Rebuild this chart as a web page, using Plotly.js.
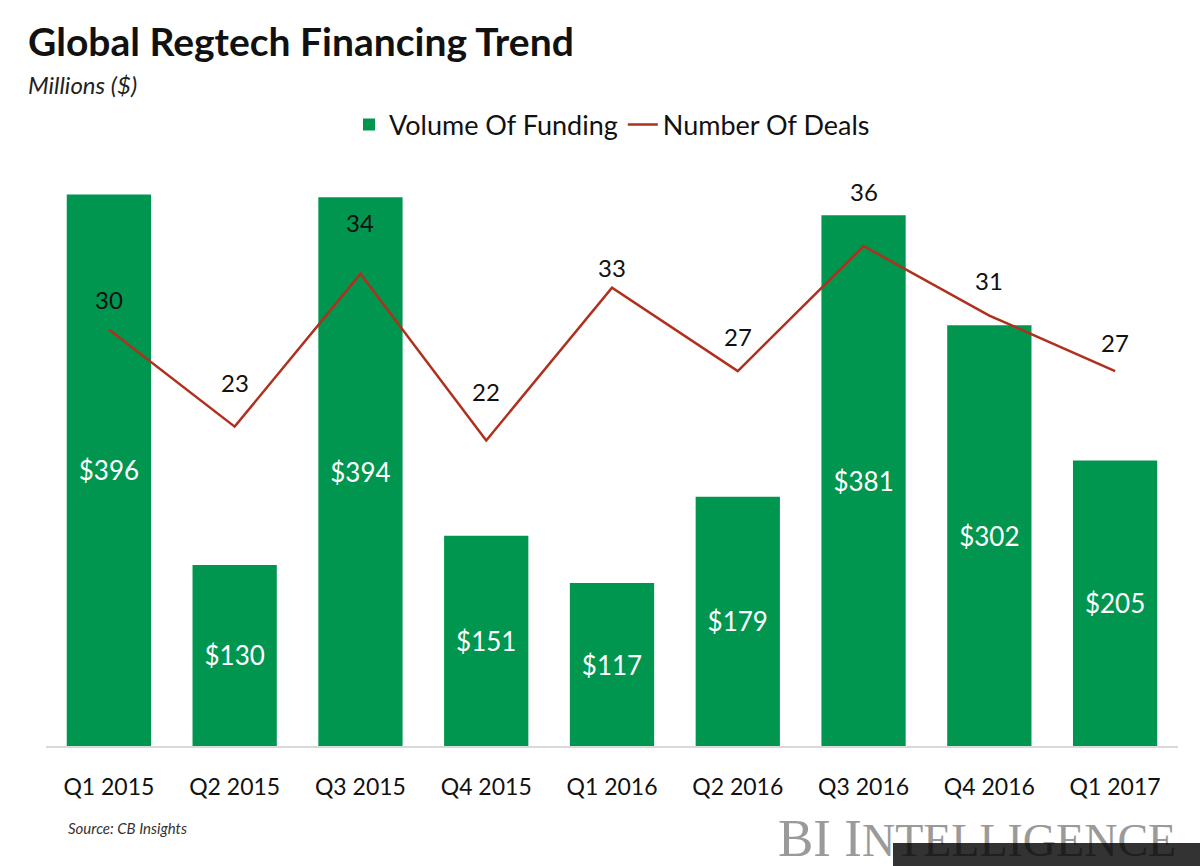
<!DOCTYPE html>
<html>
<head>
<meta charset="utf-8">
<script src="https://cdn.plot.ly/plotly-3.0.1.min.js"></script>
<style>html,body{margin:0;padding:0;background:#fff;}#chart{width:1200px;height:866px;}</style>
</head>
<body>
<div id="chart"></div>
<script>
const quarters = ["Q1 2015","Q2 2015","Q3 2015","Q4 2015","Q1 2016","Q2 2016","Q3 2016","Q4 2016","Q1 2017"];
const funding = [396,130,394,151,117,179,381,302,205];
const deals = [30,23,34,22,33,27,36,31,27];
const fundingLabels = funding.map(v => "$" + v);
const dealLabels = deals.map(String);

// label placement (pixels above each point), as hand-placed in the original
const dealLabelShift = [30,44,51,49,20,35,55,35,29];

const FONT = "Lato, 'Open Sans', sans-serif";
// plot area in pixels: x 46..1178, y 160..746
const PX = x => (x - 46) / 1132;
const PY = y => (746 - y) / 586;

const traces = [
  {
    type: "bar", name: "Volume Of Funding", x: quarters, y: funding,
    marker: {color: "#00964f"},
    text: fundingLabels, textposition: "inside", insidetextanchor: "middle",
    textfont: {color: "#ffffff", size: 26, family: FONT},
    hoverinfo: "x+y"
  },
  {
    type: "scatter", mode: "lines", name: "Number Of Deals",
    x: quarters, y: deals, yaxis: "y2",
    line: {color: "#b0301e", width: 2.5}
  }
];

const dealAnnotations = quarters.map((q, i) => ({
  x: q, y: deals[i], xref: "x", yref: "y2", text: dealLabels[i],
  showarrow: false, xanchor: "center", yanchor: "middle", yshift: dealLabelShift[i],
  font: {color: "#111", size: 24, family: FONT}
}));

const layout = {
  width: 1200, height: 866,
  paper_bgcolor: "#ffffff", plot_bgcolor: "#ffffff",
  margin: {l: 46, r: 22, t: 160, b: 120},
  font: {family: FONT, color: "#111"},
  bargap: 0.33,
  showlegend: true,
  legend: {orientation: "h", x: PX(612), xanchor: "center", y: PY(125), yanchor: "middle",
           font: {size: 27, family: FONT}, traceorder: "normal"},
  xaxis: {type: "category", range: [-0.5, 8.5], showgrid: false, zeroline: false, showline: true,
          linecolor: "#d9d9d9", linewidth: 1.5, ticks: "", ticklabelstandoff: 20,
          tickfont: {size: 23, family: FONT, color: "#111"}},
  yaxis: {range: [0, 420.7], visible: false, showgrid: false, zeroline: false},
  yaxis2: {range: [0, 42.2], overlaying: "y", side: "right", visible: false,
           showgrid: false, zeroline: false},
  annotations: dealAnnotations.concat([
    {text: "<b>Global Regtech Financing Trend</b>", xref: "paper", yref: "paper",
     x: PX(26), y: PY(41), xanchor: "left", yanchor: "middle", showarrow: false,
     font: {size: 39, family: FONT, color: "#111"}},
    {text: "<i>Millions ($)</i>", xref: "paper", yref: "paper",
     x: PX(26), y: PY(84), xanchor: "left", yanchor: "middle", showarrow: false,
     font: {size: 24, family: FONT, color: "#222"}},
    {text: "<i>Source: CB Insights</i>", xref: "paper", yref: "paper",
     x: PX(66), y: PY(828), xanchor: "left", yanchor: "middle", showarrow: false,
     font: {size: 15, family: FONT, color: "#333"}},
    {text: "BI I<span style='font-size:46px'>NTELLIGENCE</span>", xref: "paper", yref: "paper",
     x: PX(1178), y: PY(838), xanchor: "right", yanchor: "middle", showarrow: false,
     font: {size: 53, family: "'Liberation Serif', 'DejaVu Serif', serif", color: "#9a9a9a"}},
    {text: " ", xref: "paper", yref: "paper", x: PX(893), y: PY(843),
     xanchor: "left", yanchor: "top", showarrow: false, width: 320, height: 30,
     bgcolor: "rgba(0,0,0,0.8)", borderpad: 0, borderwidth: 0, font: {size: 10}}
  ])
};

Plotly.newPlot("chart", traces, layout, {displayModeBar: false, staticPlot: true});
</script>
</body>
</html>
